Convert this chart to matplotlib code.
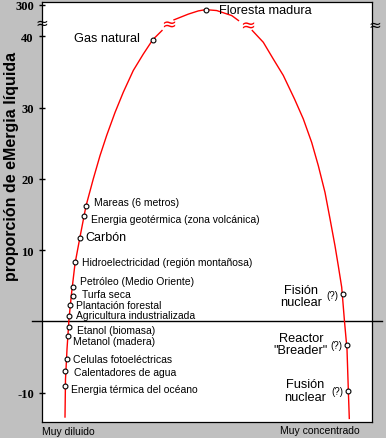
import matplotlib
matplotlib.use('Agg')
import matplotlib.pyplot as plt

# eMergy yield ratio along a "concentration" axis (arbitrary 0-330 scale).
# Above 40 the y axis is broken: the 300 tick sits at 44.4 in plot units.
curve_left_x = [23.5, 24, 25.5, 27.5, 30, 33.5, 38.5, 44.5, 51.8, 58.5, 65.2,
                73.5, 81.8, 91.8, 101.8, 111.2, 120.5]
curve_left_y = [-13.4, -8.1, -3.9, 0.35, 3.9, 8.1, 11.85, 16.2, 20.0, 23.25,
                26.1, 29.3, 32.15, 35.2, 37.5, 39.5, 40.8]
curve_top_x = [132.5, 146.8, 156.8, 164.2, 175.2, 190.2, 197]
curve_top_y = [42.3, 43.1, 43.55, 43.73, 43.6, 42.9, 42.2]
curve_right_x = [210.8, 221.8, 231.8, 241.8, 253, 261.8, 270.2, 276.8, 283.5,
                 288.5, 293.5, 296.8, 300.2, 303, 305.5, 306.8, 307.8]
curve_right_y = [40.8, 39.15, 36.8, 34.5, 31.2, 28.4, 25.1, 21.85, 18.1, 14.4,
                 10.6, 7.8, 4.8, 0, -3.9, -9.5, -13.6]

# left branch sources (label to the right of the point)
src_left = ['Mareas (6 metros)', 'Energia geotérmica (zona volcánica)', 'Carbón',
            'Hidroelectricidad (región montañosa)', 'Petróleo (Medio Oriente)',
            'Turfa seca', 'Plantación forestal', 'Agricultura industrializada',
            'Etanol (biomasa)', 'Metanol (madera)', 'Celulas fotoeléctricas',
            'Calentadores de agua', 'Energia térmica del océano']
src_left_x = [44.5, 42.5, 38.2, 33.8, 31.5, 31.5, 28.5, 27.8, 27.2, 26.5, 25.2, 23.8, 23.8]
src_left_y = [16.2, 14.75, 11.7, 8.4, 4.9, 3.6, 2.3, 0.75, -0.75, -2.1, -5.3, -7.0, -9.0]
left_dx = [8.3, 6.7, 6, 6.4, 7, 9.3, 6, 6.7, 8, 4.7, 6, 8.4, 5.4]
left_dy = [3.8, -2.7, 0.6, 0, 5.4, 1.7, 0.5, 1.3, -3, -4.6, 0, -0.4, -3.3]

# top sources
gas_x, gas_y = 111.2, 39.5
forest_x, forest_y = 164.2, 43.73

# right branch (speculative) sources
src_right = ['Fisión\nnuclear', 'Reactor\n"Breader"', 'Fusión\nnuclear']
src_right_x = [301.2, 305.8, 306.2]
src_right_y = [3.8, -3.25, -9.7]
right_dx = [-42, -46.5, -42.6]
right_dy = [-1.7, 0.5, 0]

tick_vals = [-10, 10, 20, 30, 40, 44.4]
tick_labels = ['-10', '10', '20', '30', '40', '300']

sans = 'Liberation Sans'

fig = plt.figure(figsize=(3.86, 4.39), dpi=100, facecolor='#c0c0c0')
ax = fig.add_axes([41.5 / 386, 16 / 439, 330 / 386, 420 / 439])
ax.set_facecolor('white')
ax.set_xlim(0, 330)
ax.set_ylim(-14.1, 44.8)

for s in ax.spines.values():
    s.set_linewidth(0.9)
    s.set_color('black')

ax.set_xticks([])
ax.set_yticks(tick_vals)
ax.set_yticklabels(tick_labels, fontfamily='Liberation Serif', fontweight='bold', fontsize=9)
ax.tick_params(axis='y', direction='inout', length=5, width=1.0, pad=3)

# zero line runs past both spines
ax.plot([-9.5, 340.5], [0, 0], color='black', lw=1.0, clip_on=False, zorder=2)

# the curve, broken at the axis break
for xs, ys in [(curve_left_x, curve_left_y), (curve_top_x, curve_top_y),
               (curve_right_x, curve_right_y)]:
    ax.plot(xs, ys, color='red', lw=1.0, zorder=3)

# break marks
ax.text(126.8, 41.7, '≈', color='red', fontsize=13, ha='center', va='center', zorder=4)
ax.text(206.3, 41.5, '≈', color='red', fontsize=13, ha='center', va='center', zorder=4)
ax.text(0.5, 42.0, '≈', color='black', fontsize=11, ha='center', va='center',
        clip_on=False, zorder=5)
ax.text(333.5, 41.7, '≈', color='black', fontsize=11, ha='center', va='center',
        clip_on=False, zorder=5)

mk = dict(marker='o', ms=3.5, mfc='white', mec='black', mew=0.8, ls='none', zorder=6)

ax.plot(src_left_x, src_left_y, **mk)
for i, lab in enumerate(src_left):
    fs = 9 if lab == 'Carbón' else 7.5
    ax.annotate(lab, (src_left_x[i], src_left_y[i]), xytext=(left_dx[i], left_dy[i]),
                textcoords='offset pixels', ha='left', va='center',
                fontsize=fs, fontfamily=sans)

ax.plot([gas_x, forest_x], [gas_y, forest_y], **mk)
ax.annotate('Gas natural', (gas_x, gas_y), xytext=(-12.7, 1.7), textcoords='offset pixels',
            ha='right', va='center', fontsize=9.2, fontfamily=sans)
ax.annotate('Floresta madura', (forest_x, forest_y), xytext=(13.6, 0),
            textcoords='offset pixels', ha='left', va='center', fontsize=9.2, fontfamily=sans)

ax.plot(src_right_x, src_right_y, **mk)
for i, lab in enumerate(src_right):
    ax.annotate(lab, (src_right_x[i], src_right_y[i]), xytext=(right_dx[i], right_dy[i]),
                textcoords='offset pixels', ha='center', va='center', fontsize=9.2,
                fontfamily=sans, linespacing=1.05)
    ax.annotate('(?)', (src_right_x[i], src_right_y[i]), xytext=(-10.8, -0.5),
                textcoords='offset pixels', ha='center', va='center', fontsize=7,
                fontfamily=sans)

fig.text(12 / 386, 1 - 166 / 439, 'proporción de eMergia líquida', rotation=90,
         ha='center', va='center', fontsize=11.5, fontweight='bold', fontfamily=sans)
fig.text(41.7 / 386, 1 - 432 / 439, 'Muy diluido', ha='left', va='center',
         fontsize=7.5, fontfamily=sans)
fig.text(360 / 386, 1 - 431 / 439, 'Muy concentrado', ha='right', va='center',
         fontsize=7.5, fontfamily=sans)

fig.savefig('out.png', dpi=100, facecolor=fig.get_facecolor())
